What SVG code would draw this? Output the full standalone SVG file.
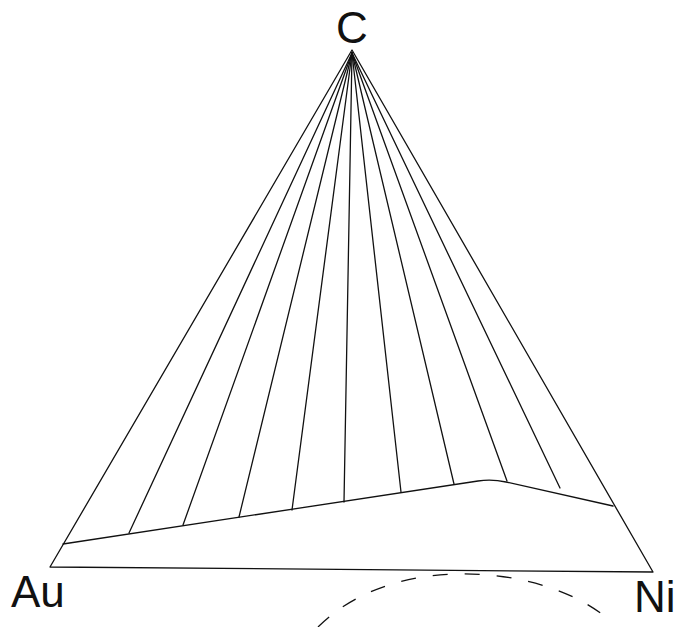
<svg xmlns="http://www.w3.org/2000/svg" width="677" height="627" viewBox="0 0 677 627">
<style>
.ln{stroke:#111;stroke-width:1.3;fill:none;stroke-linecap:round;stroke-linejoin:round}
.dash{stroke:#111;stroke-width:1.3;fill:none;stroke-dasharray:15 17}
.lbl{font-family:"Liberation Sans",Arial,sans-serif;font-size:44px;fill:#111}
</style>
<rect width="677" height="627" fill="#fff"/>
<g id="C"><text class="lbl" x="352" y="43" text-anchor="middle">C</text></g>
<g id="Au"><text class="lbl" x="11" y="607">Au</text></g>
<g id="Ni"><text class="lbl" x="634" y="612">Ni</text></g>
<g id="connectors">
<path id="triangle" class="ln" d="M352,50 L50,567 L653,572 Z"/>
<path id="boundary" class="ln" d="M63,544 L478,481 Q492,479 506,482 L613,506"/>
<g id="tielines" class="ln">
<line x1="352" y1="53" x2="129" y2="533"/>
<line x1="352" y1="53" x2="183" y2="525"/>
<line x1="352" y1="53" x2="239" y2="517"/>
<line x1="352" y1="53" x2="292" y2="510"/>
<line x1="352" y1="53" x2="344" y2="502"/>
<line x1="352" y1="53" x2="401" y2="492"/>
<line x1="352" y1="53" x2="454" y2="484"/>
<line x1="352" y1="53" x2="507" y2="481"/>
<line x1="352" y1="53" x2="560" y2="488"/>
</g>
<path id="arc" class="dash" d="M318,627 C395,550 545,565 608,619"/>
</g>
</svg>
